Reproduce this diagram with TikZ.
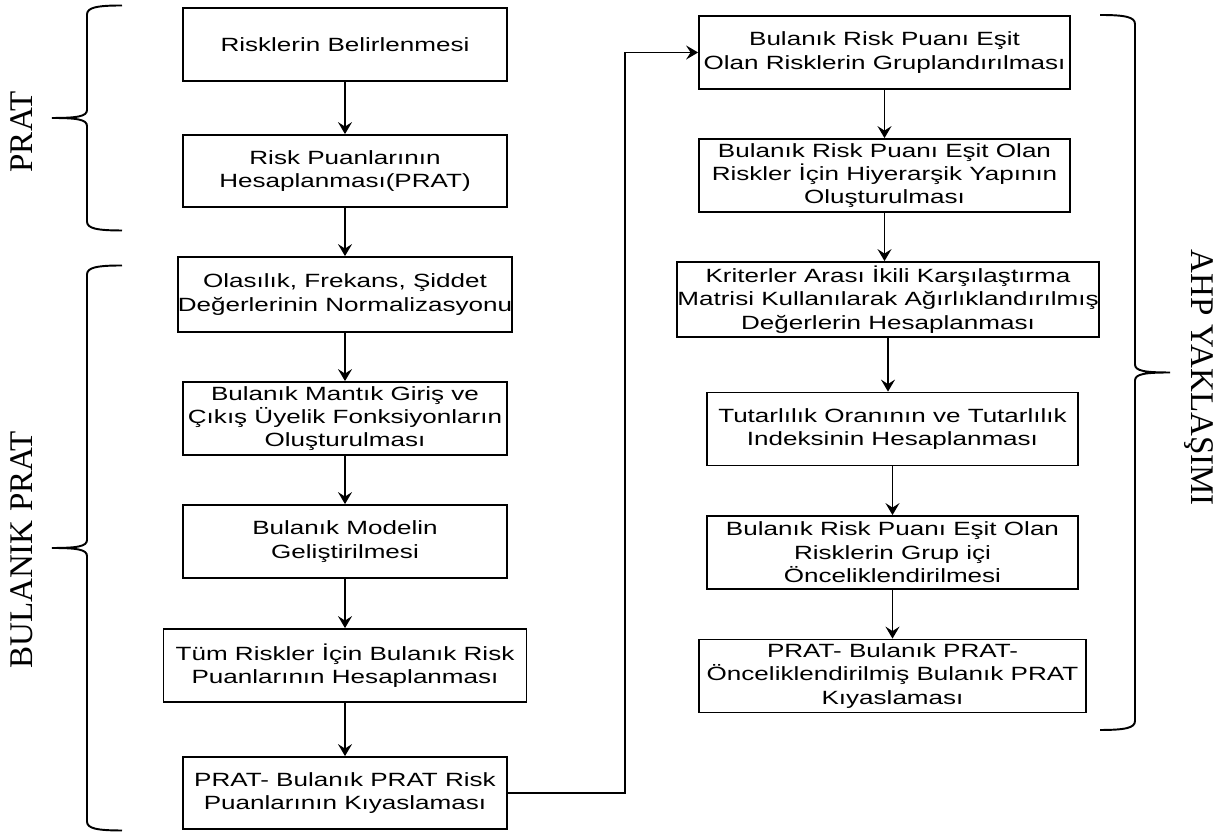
\documentclass[tikz,border=0pt]{standalone}
\usepackage{fontspec}
\setmainfont{Liberation Serif}
\newfontfamily\boxfont[FakeStretch=1.36]{Liberation Sans}
\usepackage{tikz}
\usetikzlibrary{arrows.meta}
\tikzset{
stage box/.style = { rectangle, draw = black, fill = white, line width = 1pt, minimum height = 1.46cm, inner sep = 0pt, align = center, font = \boxfont\fontsize{10.9}{13.3}\selectfont },
side label/.style = { font = \fontsize{18.8}{20}\selectfont, inner sep = 0pt },
flow/.style = { line width = 0.9pt, -{Stealth[length = 2.4mm, width = 2.8mm, inset = 0.9mm]} },
}
\tikzset{
pics/side brace/.style = {
        code = {
        \draw[line width = 1.1pt] (1.4, #1) .. controls (0.9, #1) and (0.7, #1-0.04) .. (0.7, #1-0.18) -- (0.7, 0.16) .. controls (0.7, 0.03) and (0.5, 0) .. (0, 0) .. controls (0.5, 0) and (0.7, -0.03) .. (0.7, -0.16) -- (0.7, -#1+0.18) .. controls (0.7, -#1+0.04) and (0.9, -#1) .. (1.4, -#1);
        }
    }
}
\begin{document}
\begin{tikzpicture}
    \useasboundingbox (0, 0) rectangle (24.64, 16.64);
    \node[stage box, minimum width = 6.48cm] (ident) at (6.9, 15.75) {Risklerin Belirlenmesi};
    \node[stage box, minimum width = 6.48cm, minimum height = 1.44cm] (score) at (6.9, 13.22) {Risk Puanlarının\\Hesaplanması(PRAT)};
    \node[stage box, minimum width = 6.56cm, minimum height = 1.5cm] (norm) at (6.9, 10.75) {Olasılık, Frekans, Şiddet\\Değerlerinin Normalizasyonu};
    \node[stage box, minimum width = 6.48cm] (member) at (6.9, 8.27) {Bulanık Mantık Giriş ve\\Çıkış Üyelik Fonksiyonların\\Oluşturulması};
    \node[stage box, minimum width = 6.48cm] (model) at (6.9, 5.81) {Bulanık Modelin\\Geliştirilmesi};
    \node[stage box, minimum width = 7.26cm] (fscore) at (6.9, 3.33) {Tüm Riskler İçin Bulanık Risk\\Puanlarının Hesaplanması};
    \node[stage box, minimum width = 6.48cm, minimum height = 1.44cm] (compare) at (6.9, 0.78) {PRAT- Bulanık PRAT Risk\\Puanlarının Kıyaslaması};
    \node[stage box, minimum width = 7.42cm] (group) at (17.69, 15.59) {Bulanık Risk Puanı Eşit\\Olan Risklerin Gruplandırılması};
    \node[stage box, minimum width = 7.42cm] (hier) at (17.69, 13.13) {Bulanık Risk Puanı Eşit Olan\\Riskler İçin Hiyerarşik Yapının\\Oluşturulması};
    \node[stage box, minimum width = 8.44cm, minimum height = 1.5cm] (pairwise) at (17.76, 10.65) {Kriterler Arası İkili Karşılaştırma\\Matrisi Kullanılarak Ağırlıklandırılmış\\Değerlerin Hesaplanması};
    \node[stage box, minimum width = 7.42cm] (consist) at (17.85, 8.06) {Tutarlılık Oranının ve Tutarlılık\\Indeksinin Hesaplanması};
    \node[stage box, minimum width = 7.42cm] (rank) at (17.85, 5.59) {Bulanık Risk Puanı Eşit Olan\\Risklerin Grup içi\\Önceliklendirilmesi};
    \node[stage box, minimum width = 7.74cm] (final) at (17.85, 3.12) {PRAT- Bulanık PRAT-\\Önceliklendirilmiş Bulanık PRAT\\Kıyaslaması};
    \draw[flow] (ident) -- (score);
    \draw[flow] (score) -- (norm);
    \draw[flow] (norm) -- (member);
    \draw[flow] (member) -- (model);
    \draw[flow] (model) -- (fscore);
    \draw[flow] (fscore) -- (compare);
    \draw[flow] (compare.east) -- ++(2.34, 0) |- (group.west);
    \draw[flow] (group.south) -- (group.south |- hier.north);
    \draw[flow] (hier.south) -- (hier.south |- pairwise.north);
    \draw[flow] (pairwise.south) -- (pairwise.south |- consist.north);
    \draw[flow] (consist) -- (rank);
    \draw[flow] (rank) -- (final);
    \draw pic at (1.04, 14.28) {side brace = 2.25};
    \draw pic at (1.04, 5.68) {side brace = 5.65};
    \draw pic[xscale = -1] at (23.4, 9.19) {side brace = 7.15};
    \node[side label, rotate = 90] (prat label) at (0.44, 14.0) {PRAT};
    \node[side label, rotate = 90] (fuzzy label) at (0.44, 5.64) {BULANIK PRAT};
    \node[side label, rotate = -90] (ahp label) at (23.98, 9.08) {AHP YAKLAŞIMI};
\end{tikzpicture}
\end{document}
